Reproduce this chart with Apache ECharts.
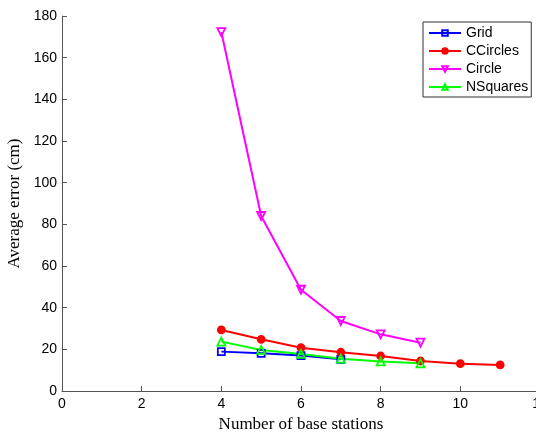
<!DOCTYPE html>
<html><head><meta charset="utf-8">
<script src="https://cdn.jsdelivr.net/npm/echarts@6/dist/echarts.min.js"></script>
<style>html,body{margin:0;padding:0;background:#fff}#c{width:536px;height:432px}</style>
</head><body><div id="c"></div>
<script>
var xTicks = [0, 2, 4, 6, 8, 10, 12];
var yTicks = [0, 20, 40, 60, 80, 100, 120, 140, 160, 180];
var gridX = [4, 5, 6, 7];
var gridY = [18.9, 18.1, 17.0, 15.2];
var ccX = [4, 5, 6, 7, 8, 9, 10, 11];
var ccY = [29.3, 24.8, 20.8, 18.6, 16.8, 14.4, 13.1, 12.5];
var circleX = [4, 5, 6, 7, 8, 9];
var circleY = [172.3, 84.0, 48.6, 33.6, 27.2, 23.2];
var nsX = [4, 5, 6, 7, 8, 9];
var nsY = [23.7, 19.7, 17.8, 15.5, 14.2, 13.3];

function pairs(xs, ys){ return xs.map(function(x,i){return [x, ys[i]];}); }

var chart = echarts.init(document.getElementById('c'), null, {renderer:'canvas'});
function mk(name, xs, ys, color, symbol, size, rot, filled){
  return {
    name: name, type: 'line', data: pairs(xs, ys),
    symbol: symbol, symbolSize: size, symbolRotate: rot || 0,
    lineStyle: {color: color, width: 2},
    itemStyle: {color: filled ? color : 'rgba(0,0,0,0)', borderColor: color, borderWidth: 1.8},
    emphasis: {disabled: true}, animation: false
  };
}
chart.setOption({
  animation: false,
  grid: {left: 62, top: 16, width: 478, bottom: 41, containLabel: false, outerBoundsMode: 'none'},
  legend: {
    orient: 'vertical', left: 423, top: 22,
    borderColor: '#333', borderWidth: 1, backgroundColor: '#fff',
    padding: [4, 3, 3, 5], itemGap: 4, itemWidth: 32, itemHeight: 7,
    textStyle: {fontFamily: 'Liberation Sans, Arial', fontSize: 14, lineHeight: 13, color: '#000'},
    data: ['Grid', 'CCircles', 'Circle', 'NSquares']
  },
  xAxis: {
    type: 'value', min: 0, max: 12, interval: 2,
    name: 'Number of base stations', nameLocation: 'middle', nameGap: 25,
    nameTextStyle: {fontFamily: 'Liberation Serif, Times New Roman', fontSize: 17, color: '#000'},
    axisLine: {lineStyle: {color: '#555', width: 1}},
    axisTick: {inside: true, length: 5, lineStyle: {color: '#555'}},
    axisLabel: {fontFamily: 'Liberation Sans, Arial', fontSize: 14, color: '#000', margin: 6,
      formatter: function(v){ return xTicks.indexOf(v) >= 0 ? String(v) : ''; }},
    splitLine: {show: false}
  },
  yAxis: {
    type: 'value', min: 0, max: 180, interval: 20,
    name: 'Average error (cm)', nameLocation: 'middle', nameGap: 38,
    nameTextStyle: {fontFamily: 'Liberation Serif, Times New Roman', fontSize: 17, color: '#000'},
    axisLine: {show: true, lineStyle: {color: '#555', width: 1}},
    axisTick: {show: true, inside: true, length: 5, lineStyle: {color: '#555'}},
    axisLabel: {fontFamily: 'Liberation Sans, Arial', fontSize: 14, color: '#000', margin: 5,
      formatter: function(v){ return yTicks.indexOf(v) >= 0 ? String(v) : ''; }},
    splitLine: {show: false}
  },
  series: [
    mk('Grid', gridX, gridY, '#0000ff', 'rect', 7, 0, false),
    mk('CCircles', ccX, ccY, '#ff0000', 'circle', 7, 0, true),
    mk('Circle', circleX, circleY, '#ff00ff', 'triangle', 8, 180, false),
    mk('NSquares', nsX, nsY, '#00ff00', 'triangle', 8, 0, false)
  ]
});
</script></body></html>
